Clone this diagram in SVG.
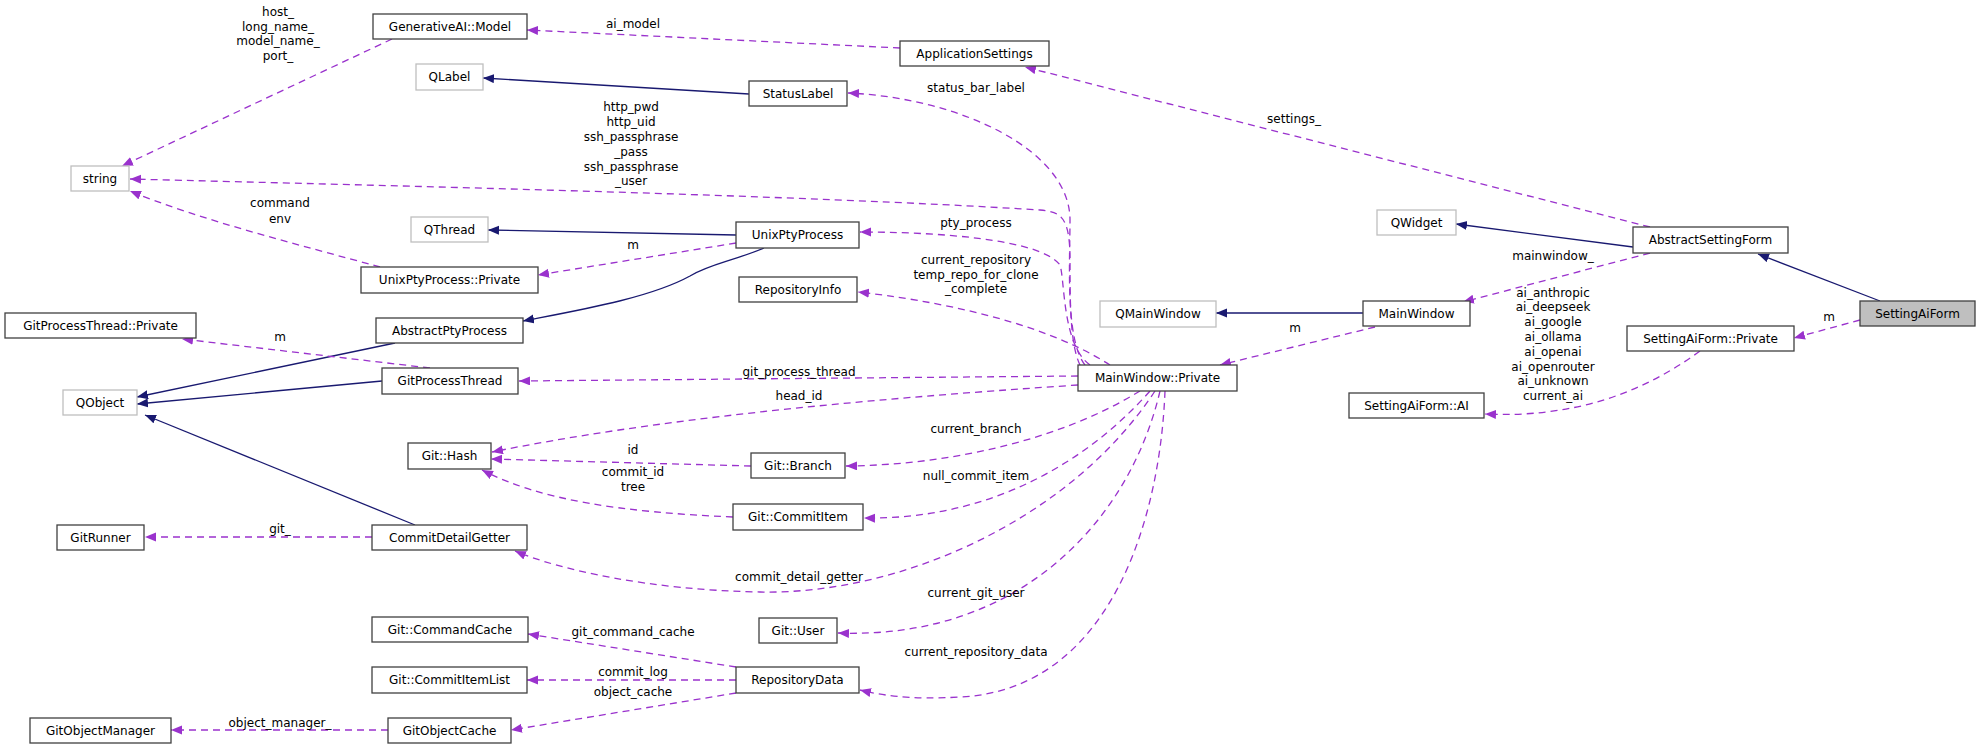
<svg xmlns="http://www.w3.org/2000/svg" width="1980" height="749" viewBox="0 0 1980 749">
<style>
text{font-family:"DejaVu Sans","Liberation Sans",sans-serif;font-size:12px;fill:#000}
.n rect{fill:#fff;stroke:#404040;stroke-width:1.3}
.g rect{fill:#fff;stroke:#bfbfbf;stroke-width:1.3}
.s rect{fill:#bfbfbf;stroke:#404040;stroke-width:1.3}
.nt{text-anchor:middle}
.inh{fill:none;stroke:#191970;stroke-width:1.3;marker-end:url(#ai)}
.use{fill:none;stroke:#9a32cd;stroke-width:1.3;stroke-dasharray:7,5;marker-end:url(#au)}
.lb{text-anchor:middle}
</style>
<defs>
<marker id="ai" markerWidth="12" markerHeight="10" refX="11" refY="4.5" orient="auto" markerUnits="userSpaceOnUse"><path d="M0,0 L11,4.5 L0,9 z" fill="#191970"/></marker>
<marker id="au" markerWidth="12" markerHeight="10" refX="11" refY="4.5" orient="auto" markerUnits="userSpaceOnUse"><path d="M0,0 L11,4.5 L0,9 z" fill="#9a32cd"/></marker>
</defs>
<rect width="1980" height="749" fill="#fff"/>
<g id="connectors">
<path class="inh" d="M749,94 L483,78"/>
<path class="inh" d="M736,235 L488,230"/>
<path class="inh" d="M764,248 C730,262 710,264 690,276 C650,298 580,310 523,321"/>
<path class="inh" d="M395,343 L137,397"/>
<path class="inh" d="M382,381 L137,404"/>
<path class="inh" d="M415,525 L145,415"/>
<path class="inh" d="M1633,247 L1456,224"/>
<path class="inh" d="M1363,313 L1216,313"/>
<path class="inh" d="M1880,301 L1758,254"/>
<path class="use" d="M392,39 L122,166"/>
<path class="use" d="M900,48 L527,30"/>
<path class="use" d="M1080,365 C1070,345 1070,300 1070,260 C1070,215 1060,212 1040,210 C800,195 400,186 130,179"/>
<path class="use" d="M380,267 C300,245 200,220 130,191"/>
<path class="use" d="M736,243 L538,275"/>
<path class="use" d="M430,368 L182,339"/>
<path class="use" d="M372,537 L145,537"/>
<path class="use" d="M751,466 L491,459"/>
<path class="use" d="M733,517 C620,512 540,500 482,470"/>
<path class="use" d="M736,667 L528,634"/>
<path class="use" d="M736,680 L527,680"/>
<path class="use" d="M736,693 L511,730"/>
<path class="use" d="M388,730 L171,730"/>
<path class="use" d="M1650,227 L1025,67"/>
<path class="use" d="M1650,253 L1463,302"/>
<path class="use" d="M1860,320 L1794,338"/>
<path class="use" d="M1700,351 C1640,395 1570,418 1485,414"/>
<path class="use" d="M1375,327 L1220,365"/>
<path class="use" d="M1085,365 C1065,340 1070,260 1070,220 C1070,150 960,98 848,93"/>
<path class="use" d="M1090,365 C1062,345 1065,280 1060,265 C1040,238 930,232 860,232"/>
<path class="use" d="M1110,365 C1040,320 930,300 858,292"/>
<path class="use" d="M1078,376 L519,381"/>
<path class="use" d="M1078,385 C850,400 650,420 492,452"/>
<path class="use" d="M1140,391 C1060,440 950,465 846,466"/>
<path class="use" d="M1150,391 C1080,470 980,520 864,518"/>
<path class="use" d="M1155,391 C1070,520 900,595 760,592 C650,590 560,570 515,551"/>
<path class="use" d="M1160,391 C1130,520 1020,640 838,633"/>
<path class="use" d="M1165,391 C1160,520 1110,690 960,697 C910,700 880,695 860,690"/>
</g>
<g id="labels">
<text class="lb" x="278" y="16">host_</text>
<text class="lb" x="278" y="31">long_name_</text>
<text class="lb" x="278" y="45">model_name_</text>
<text class="lb" x="278" y="60">port_</text>
<text class="lb" x="633" y="28">ai_model</text>
<text class="lb" x="976" y="92">status_bar_label</text>
<text class="lb" x="1294" y="123">settings_</text>
<text class="lb" x="631" y="111">http_pwd</text>
<text class="lb" x="631" y="126">http_uid</text>
<text class="lb" x="631" y="141">ssh_passphrase</text>
<text class="lb" x="631" y="156">_pass</text>
<text class="lb" x="631" y="171">ssh_passphrase</text>
<text class="lb" x="631" y="185">_user</text>
<text class="lb" x="280" y="207">command</text>
<text class="lb" x="280" y="223">env</text>
<text class="lb" x="976" y="227">pty_process</text>
<text class="lb" x="633" y="249">m</text>
<text class="lb" x="976" y="264">current_repository</text>
<text class="lb" x="976" y="279">temp_repo_for_clone</text>
<text class="lb" x="976" y="293">_complete</text>
<text class="lb" x="1553" y="260">mainwindow_</text>
<text class="lb" x="1553" y="297">ai_anthropic</text>
<text class="lb" x="1553" y="311">ai_deepseek</text>
<text class="lb" x="1553" y="326">ai_google</text>
<text class="lb" x="1553" y="341">ai_ollama</text>
<text class="lb" x="1553" y="356">ai_openai</text>
<text class="lb" x="1553" y="371">ai_openrouter</text>
<text class="lb" x="1553" y="385">ai_unknown</text>
<text class="lb" x="1553" y="400">current_ai</text>
<text class="lb" x="1829" y="321">m</text>
<text class="lb" x="1295" y="332">m</text>
<text class="lb" x="280" y="341">m</text>
<text class="lb" x="799" y="376">git_process_thread</text>
<text class="lb" x="799" y="400">head_id</text>
<text class="lb" x="976" y="433">current_branch</text>
<text class="lb" x="633" y="454">id</text>
<text class="lb" x="976" y="480">null_commit_item</text>
<text class="lb" x="633" y="476">commit_id</text>
<text class="lb" x="633" y="491">tree</text>
<text class="lb" x="280" y="533">git_</text>
<text class="lb" x="799" y="581">commit_detail_getter</text>
<text class="lb" x="976" y="597">current_git_user</text>
<text class="lb" x="633" y="636">git_command_cache</text>
<text class="lb" x="976" y="656">current_repository_data</text>
<text class="lb" x="633" y="676">commit_log</text>
<text class="lb" x="633" y="696">object_cache</text>
<text class="lb" x="280" y="727">object_manager_</text>
</g>
<g id="n_genai" class="n"><rect x="373" y="14" width="154" height="25"/><text class="nt" x="450" y="31">GenerativeAI::Model</text></g>
<g id="n_appsettings" class="n"><rect x="900" y="41" width="149" height="25"/><text class="nt" x="974.5" y="58">ApplicationSettings</text></g>
<g id="n_qlabel" class="g"><rect x="416" y="64" width="67" height="26"/><text class="nt" x="449.5" y="81">QLabel</text></g>
<g id="n_statuslabel" class="n"><rect x="749" y="81" width="98" height="25"/><text class="nt" x="798" y="98">StatusLabel</text></g>
<g id="n_string" class="g"><rect x="71" y="166" width="58" height="25"/><text class="nt" x="100" y="183">string</text></g>
<g id="n_qthread" class="g"><rect x="411" y="217" width="77" height="25"/><text class="nt" x="449.5" y="234">QThread</text></g>
<g id="n_unixpty" class="n"><rect x="736" y="222" width="123" height="26"/><text class="nt" x="797.5" y="239">UnixPtyProcess</text></g>
<g id="n_qwidget" class="g"><rect x="1377" y="210" width="79" height="25"/><text class="nt" x="1416.5" y="227">QWidget</text></g>
<g id="n_abstractsetting" class="n"><rect x="1633" y="227" width="155" height="26"/><text class="nt" x="1710.5" y="244">AbstractSettingForm</text></g>
<g id="n_unixptypriv" class="n"><rect x="361" y="267" width="177" height="26"/><text class="nt" x="449.5" y="284">UnixPtyProcess::Private</text></g>
<g id="n_repoinfo" class="n"><rect x="739" y="277" width="118" height="25"/><text class="nt" x="798" y="294">RepositoryInfo</text></g>
<g id="n_qmainwindow" class="g"><rect x="1100" y="301" width="116" height="26"/><text class="nt" x="1158" y="318">QMainWindow</text></g>
<g id="n_mainwindow" class="n"><rect x="1363" y="301" width="107" height="25"/><text class="nt" x="1416.5" y="318">MainWindow</text></g>
<g id="n_settingaiform" class="s"><rect x="1860" y="301" width="115" height="25"/><text class="nt" x="1917.5" y="318">SettingAiForm</text></g>
<g id="n_gptpriv" class="n"><rect x="5" y="313" width="191" height="25"/><text class="nt" x="100.5" y="330">GitProcessThread::Private</text></g>
<g id="n_abstractpty" class="n"><rect x="376" y="318" width="147" height="25"/><text class="nt" x="449.5" y="335">AbstractPtyProcess</text></g>
<g id="n_settingaipriv" class="n"><rect x="1627" y="326" width="167" height="25"/><text class="nt" x="1710.5" y="343">SettingAiForm::Private</text></g>
<g id="n_gpt" class="n"><rect x="382" y="368" width="136" height="26"/><text class="nt" x="450" y="385">GitProcessThread</text></g>
<g id="n_mwpriv" class="n"><rect x="1078" y="365" width="159" height="26"/><text class="nt" x="1157.5" y="382">MainWindow::Private</text></g>
<g id="n_qobject" class="g"><rect x="63" y="390" width="74" height="25"/><text class="nt" x="100" y="407">QObject</text></g>
<g id="n_settingaiai" class="n"><rect x="1349" y="393" width="135" height="25"/><text class="nt" x="1416.5" y="410">SettingAiForm::AI</text></g>
<g id="n_hash" class="n"><rect x="408" y="443" width="83" height="26"/><text class="nt" x="449.5" y="460">Git::Hash</text></g>
<g id="n_branch" class="n"><rect x="751" y="453" width="94" height="25"/><text class="nt" x="798" y="470">Git::Branch</text></g>
<g id="n_commititem" class="n"><rect x="733" y="504" width="130" height="26"/><text class="nt" x="798" y="521">Git::CommitItem</text></g>
<g id="n_gitrunner" class="n"><rect x="57" y="525" width="87" height="25"/><text class="nt" x="100.5" y="542">GitRunner</text></g>
<g id="n_cdg" class="n"><rect x="372" y="525" width="155" height="25"/><text class="nt" x="449.5" y="542">CommitDetailGetter</text></g>
<g id="n_cmdcache" class="n"><rect x="372" y="617" width="156" height="25"/><text class="nt" x="450" y="634">Git::CommandCache</text></g>
<g id="n_user" class="n"><rect x="759" y="618" width="78" height="25"/><text class="nt" x="798" y="635">Git::User</text></g>
<g id="n_commitlist" class="n"><rect x="372" y="667" width="155" height="26"/><text class="nt" x="449.5" y="684">Git::CommitItemList</text></g>
<g id="n_repodata" class="n"><rect x="736" y="667" width="123" height="26"/><text class="nt" x="797.5" y="684">RepositoryData</text></g>
<g id="n_objmgr" class="n"><rect x="30" y="718" width="141" height="25"/><text class="nt" x="100.5" y="735">GitObjectManager</text></g>
<g id="n_objcache" class="n"><rect x="388" y="718" width="123" height="25"/><text class="nt" x="449.5" y="735">GitObjectCache</text></g>
</svg>
